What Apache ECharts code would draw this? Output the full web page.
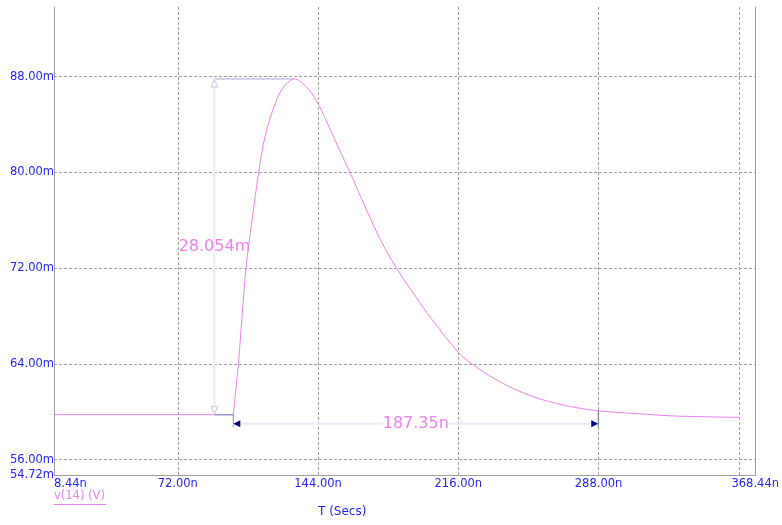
<!DOCTYPE html>
<html>
<head>
    <meta http-equiv="Content-Type" content="text/html; charset=utf-8" />
    <title>v(14) transient</title>
    <style type="text/css">
        body, html {margin:0;padding:0;background:#fff;}
        #chart {width:782px;height:525px;}
    </style>
    <script src="https://cdn.jsdelivr.net/npm/echarts@6/dist/echarts.min.js"></script>
</head>
<body>
<div id="chart"></div>
<script type="text/javascript">
    // waveform v(14), time in ns, voltage in mV
    var timeNs = [8.44, 100.5, 101.8, 103.1, 105.0, 107.0, 110.1, 113.5, 115.2, 117.0, 118.9, 122.7, 124.3, 127.1,
        129.4, 131.6, 134.5, 139.6, 144.5, 149.8, 154.8, 160.4, 168.5, 176.9, 184.3, 194.0, 202.5,
        216.1, 222.2, 236.7, 253.7, 270.9, 288.0, 308.4, 325.5, 342.5, 360.2];
    var voltMv = [59.76, 59.76, 61.87, 64.0, 68.0, 72.0, 76.0, 80.0, 81.75, 83.15, 84.3, 86.06, 86.62, 87.31,
        87.61, 87.81, 87.64, 86.85, 85.6, 83.75, 81.95, 80.0, 77.0, 74.1, 72.0, 69.65, 67.71,
        64.95, 64.1, 62.56, 61.31, 60.53, 60.08, 59.84, 59.66, 59.59, 59.53];
    var stepIndex = 1; // the pulse starts at this sample

    var xTicks = [8.44, 72, 144, 216, 288, 368.44];
    var xGrid = [72, 144, 216, 288, 360];
    var yTicks = [54.72, 56, 64, 72, 80, 88];
    var yGrid = [56, 64, 72, 80, 88];

    // cursor measurement
    var baseMv = 59.76, peakMv = 87.81, peakNs = 131.6;
    var dimNs = 90.8, riseNs = 100.5, endNs = 287.85, endCurveMv = 60.1, arrowMv = 59.0;
    var dyLabel = '28.054m', dxLabel = '187.35n';

    var blue = '#2424ff';
    var violet = '#ee82ee';
    var font = 'DejaVu Sans';

    var chart = echarts.init(document.getElementById('chart'));
    var data = timeNs.map(function (t, i) { return [t, voltMv[i]]; });
    var gridLines = xGrid.map(function (v) { return {xAxis: v}; })
        .concat(yGrid.map(function (v) { return {yAxis: v}; }));

    var option = {
        animation: false,
        backgroundColor: '#fff',
        grid: {left: 54, right: 25, top: 7, bottom: 50},
        xAxis: {
            type: 'value', min: 8.44, max: 368.44,
            axisLine: {show: true, onZero: false, lineStyle: {color: '#a0a0a0'}},
            axisTick: {show: false},
            splitLine: {show: false},
            axisLabel: {
                customValues: xTicks, color: blue, fontFamily: font, fontSize: 11.5, margin: 3,
                alignMinLabel: 'left',
                formatter: function (v) { return v.toFixed(2) + 'n'; }
            }
        },
        yAxis: [{
            type: 'value', min: 54.72, max: 93.82,
            axisLine: {show: true, onZero: false, lineStyle: {color: '#a0a0a0'}},
            axisTick: {show: false},
            splitLine: {show: false},
            axisLabel: {
                customValues: yTicks, color: blue, fontFamily: font, fontSize: 11.5, margin: 0,
                formatter: function (v) { return v.toFixed(2) + 'm'; }
            }
        }, {
            type: 'value', min: 54.72, max: 93.82, position: 'right',
            axisLine: {show: true, onZero: false, lineStyle: {color: '#a0a0a0'}},
            axisTick: {show: false}, axisLabel: {show: false}, splitLine: {show: false}
        }],
        series: [{
            // flat part before the step
            type: 'line', z: 3,
            data: data.slice(0, stepIndex + 1),
            showSymbol: false,
            lineStyle: {color: violet, width: 1},
            markLine: {
                silent: true, z: 1, symbol: 'none',
                label: {show: false},
                lineStyle: {color: '#a0a0a0', type: [3, 2], width: 1},
                data: gridLines
            }
        }, {
            // pulse
            type: 'line', z: 3,
            data: data.slice(stepIndex),
            smooth: 0.35,
            showSymbol: false,
            lineStyle: {color: violet, width: 1}
        }]
    };
    chart.setOption(option);

    function px(x, y) { return chart.convertToPixel({gridIndex: 0}, [x, y]); }

    var pTop = px(dimNs, peakMv), pBot = px(dimNs, baseMv), pPeak = px(peakNs, peakMv);
    var pRise = px(riseNs, baseMv), aL = px(riseNs, arrowMv), aR = px(endNs, arrowMv);
    var pEnd = px(endNs, endCurveMv);
    var xm = pTop[0], ay = aL[1];

    chart.setOption({
        graphic: [
            {type: 'line', z: 10, shape: {x1: xm, y1: pTop[1], x2: pPeak[0], y2: pTop[1]},
                style: {stroke: '#a8a4d4', lineWidth: 1}},
            {type: 'line', z: 10, shape: {x1: xm, y1: pTop[1], x2: xm, y2: pBot[1]},
                style: {stroke: '#ebebf5', lineWidth: 2}},
            {type: 'polygon', z: 11, shape: {points: [[xm, pTop[1] + 1], [xm - 3.5, pTop[1] + 8], [xm + 3.5, pTop[1] + 8]]},
                style: {fill: '#fff', stroke: '#c4c4e0', lineWidth: 1}},
            {type: 'polygon', z: 11, shape: {points: [[xm, pBot[1] - 1], [xm - 3.5, pBot[1] - 8], [xm + 3.5, pBot[1] - 8]]},
                style: {fill: '#fff', stroke: '#c4c4e0', lineWidth: 1}},
            {type: 'line', z: 10, shape: {x1: xm, y1: pBot[1], x2: pRise[0], y2: pBot[1]},
                style: {stroke: '#a094d4', lineWidth: 1.5}},
            {type: 'line', z: 10, shape: {x1: pRise[0], y1: pBot[1], x2: pRise[0], y2: ay + 3},
                style: {stroke: '#8c8cbc', lineWidth: 1}},
            {type: 'line', z: 10, shape: {x1: pEnd[0], y1: pEnd[1], x2: pEnd[0], y2: ay + 3},
                style: {stroke: '#6a6aa8', lineWidth: 1}},
            {type: 'line', z: 10, shape: {x1: aL[0], y1: ay, x2: aR[0], y2: ay},
                style: {stroke: '#ebebf5', lineWidth: 2}},
            {type: 'polygon', z: 11, shape: {points: [[aL[0], ay], [aL[0] + 7, ay - 3.5], [aL[0] + 7, ay + 3.5]]},
                style: {fill: '#000080'}},
            {type: 'polygon', z: 11, shape: {points: [[aR[0], ay], [aR[0] - 7, ay - 3.5], [aR[0] - 7, ay + 3.5]]},
                style: {fill: '#000080'}},
            {type: 'text', z: 12, x: xm, y: (pTop[1] + pBot[1]) / 2,
                style: {text: dyLabel, fill: violet, font: '16px ' + font, align: 'center', verticalAlign: 'middle'}},
            {type: 'text', z: 12, x: (aL[0] + aR[0]) / 2, y: ay,
                style: {text: dxLabel, fill: violet, font: '16px ' + font, align: 'center', verticalAlign: 'middle',
                    backgroundColor: '#fff'}},
            {type: 'text', z: 12, left: 54, top: 490,
                style: {text: 'v(14) (V)', fill: violet, font: '11.5px ' + font}},
            {type: 'line', z: 12, shape: {x1: 54, y1: 504.5, x2: 106, y2: 504.5},
                style: {stroke: violet, lineWidth: 1}},
            {type: 'text', z: 12, left: 318, top: 506,
                style: {text: 'T (Secs)', fill: blue, font: '12px ' + font}}
        ]
    });
</script>
</body>
</html>
